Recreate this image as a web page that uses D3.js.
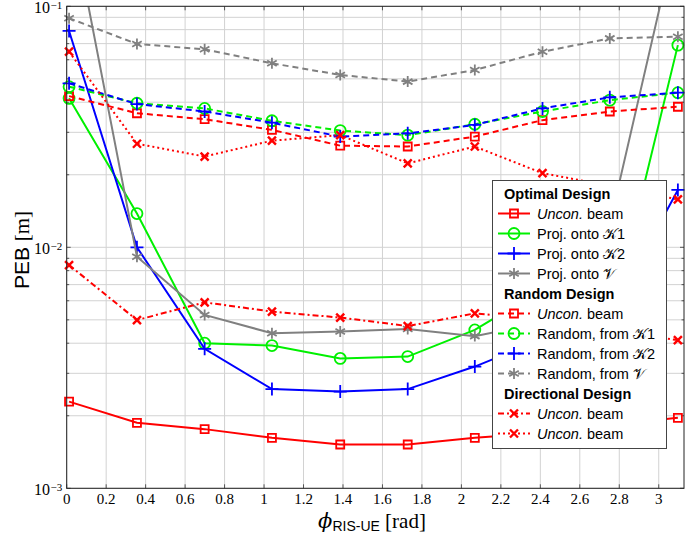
<!DOCTYPE html>
<html>
<head>
<meta charset="utf-8">
<script src="https://cdn.jsdelivr.net/npm/d3@7"></script>
<style>
  body { margin: 0; background: #fff; }
  svg { display: block; }
</style>
</head>
<body>
<script>
// angle samples (rad) and PEB values
const phi = [0.012, 0.356, 0.699, 1.04, 1.386, 1.728, 2.068, 2.411, 2.752, 3.097];

const optUncon = [0.00229, 0.00187, 0.00176, 0.00162, 0.00152, 0.00152, 0.00162, 0.0017, 0.00183, 0.00196];
const optK1 = [0.0415, 0.0138, 0.0040, 0.00391, 0.00346, 0.00352, 0.00454, 0.0067, 0.0047, 0.069];
const optK2 = [0.079, 0.0100, 0.00379, 0.00258, 0.00252, 0.00258, 0.0032, 0.00416, 0.0052, 0.0173];
const optV = [0.26, 0.00914, 0.00524, 0.0044, 0.00447, 0.00458, 0.00428, 0.00488, 0.0125, 0.21];
const rndUncon = [0.0424, 0.036, 0.034, 0.0307, 0.0264, 0.0262, 0.0288, 0.0337, 0.0366, 0.0383];
const rndK1 = [0.0464, 0.0396, 0.0377, 0.0335, 0.0305, 0.0292, 0.0324, 0.0366, 0.0408, 0.0438];
const rndK2 = [0.0479, 0.0393, 0.0366, 0.0329, 0.0288, 0.0297, 0.0322, 0.0377, 0.0419, 0.0438];
const rndV = [0.0892, 0.0698, 0.0663, 0.058, 0.0519, 0.0487, 0.0544, 0.0648, 0.0736, 0.0748];
const dirDashDot = [0.00844, 0.00499, 0.00591, 0.00541, 0.00511, 0.00471, 0.00532, 0.0050, 0.0045, 0.00412];
const dirDotted = [0.0648, 0.0269, 0.0238, 0.0277, 0.0292, 0.0223, 0.0262, 0.0203, 0.018, 0.0158];

const xTicks = [0, 0.2, 0.4, 0.6, 0.8, 1, 1.2, 1.4, 1.6, 1.8, 2, 2.2, 2.4, 2.6, 2.8, 3];
const yTicks = [1e-3, 1e-2, 1e-1];
const yTickExp = ["\u22123", "\u22122", "\u22121"];

// series: values, colour, dash, marker
const series = [
  {v: optUncon, c: "#ff0000", dash: null, m: "square"},
  {v: optK1, c: "#00f000", dash: null, m: "circle"},
  {v: optK2, c: "#0000ff", dash: null, m: "plus"},
  {v: optV, c: "#808080", dash: null, m: "star"},
  {v: rndUncon, c: "#ff0000", dash: "6,4", m: "square"},
  {v: rndK1, c: "#00f000", dash: "6,4", m: "circle"},
  {v: rndK2, c: "#0000ff", dash: "6,4", m: "plus"},
  {v: rndV, c: "#808080", dash: "6,4", m: "star"},
  {v: dirDashDot, c: "#ff0000", dash: "6,3,2,3", m: "x"},
  {v: dirDotted, c: "#ff0000", dash: "2,3", m: "x"}
];

const W = 685, H = 534;
const pLeft = 66.7, pRight = 684, pTop = 6.3, pBottom = 488.3;

const svg = d3.select("body").append("svg").attr("width", W).attr("height", H);

const x = d3.scaleLinear().domain([0, 3.128]).range([pLeft, pRight]);
const y = d3.scaleLog().domain([1e-3, 1e-1]).range([pBottom, pTop]);

// grid
const gridY = [];
[1e-3, 1e-2].forEach(d => { for (let k = 1; k < 10; k++) gridY.push(k * d); });
gridY.push(1e-1);

const grid = svg.append("g").attr("stroke", "#d2d2d2").attr("stroke-width", 1);
grid.selectAll("line.gx").data(xTicks).join("line")
  .attr("x1", d => x(d)).attr("x2", d => x(d))
  .attr("y1", pTop).attr("y2", pBottom);
grid.selectAll("line.gy").data(gridY).join("line")
  .attr("x1", pLeft).attr("x2", pRight)
  .attr("y1", d => y(d)).attr("y2", d => y(d));

// inner ticks
const ticks = svg.append("g").attr("stroke", "#333").attr("stroke-width", 0.8);
xTicks.forEach(t => {
  ticks.append("line").attr("x1", x(t)).attr("x2", x(t)).attr("y1", pBottom).attr("y2", pBottom - 4);
  ticks.append("line").attr("x1", x(t)).attr("x2", x(t)).attr("y1", pTop).attr("y2", pTop + 4);
});
gridY.forEach(t => {
  const len = yTicks.includes(t) ? 4 : 2.5;
  ticks.append("line").attr("x1", pLeft).attr("x2", pLeft + len).attr("y1", y(t)).attr("y2", y(t));
  ticks.append("line").attr("x1", pRight).attr("x2", pRight - len).attr("y1", y(t)).attr("y2", y(t));
});

// clip for lines
svg.append("clipPath").attr("id", "plotclip").append("rect")
  .attr("x", pLeft).attr("y", pTop).attr("width", pRight - pLeft).attr("height", pBottom - pTop);

function markerPath(m) {
  if (m === "square") return "M-4,-4H4V4H-4Z";
  if (m === "circle") return "M5.5,0A5.5,5.5 0 1,1 -5.5,0A5.5,5.5 0 1,1 5.5,0Z";
  if (m === "plus") return "M-6.5,0H6.5M0,-6.5V6.5";
  if (m === "x") return "M-4,-4L4,4M-4,4L4,-4";
  // asterisk
  const r = 5.5, a = Math.cos(Math.PI / 6) * r, b = r / 2;
  return `M0,${-r}V${r}M${-a},${-b}L${a},${b}M${-a},${b}L${a},${-b}`;
}

const line = d3.line().x((d, i) => x(phi[i])).y(d => y(d));

const plot = svg.append("g");
series.forEach(s => {
  plot.append("path")
    .attr("d", line(s.v))
    .attr("clip-path", "url(#plotclip)")
    .attr("fill", "none")
    .attr("stroke", s.c)
    .attr("stroke-width", 2)
    .attr("stroke-dasharray", s.dash);
  plot.append("g").selectAll("path")
    .data(s.v.map((v, i) => [phi[i], v]).filter(d => d[1] <= 0.1 && d[1] >= 1e-3))
    .join("path")
    .attr("transform", d => `translate(${x(d[0])},${y(d[1])})`)
    .attr("d", markerPath(s.m))
    .attr("fill", "none")
    .attr("stroke", s.c)
    .attr("stroke-width", s.m === "x" ? 2.4 : 1.8);
});

// frame
svg.append("rect").attr("x", pLeft).attr("y", pTop)
  .attr("width", pRight - pLeft).attr("height", pBottom - pTop)
  .attr("fill", "none").attr("stroke", "#222").attr("stroke-width", 1);

// tick labels
const serif = "'Liberation Serif', 'DejaVu Serif', serif";
svg.append("g").selectAll("text").data(xTicks).join("text")
  .attr("x", d => x(d)).attr("y", 504)
  .attr("text-anchor", "middle")
  .style("font", `15px ${serif}`)
  .text(d => d);

const yl = svg.append("g");
yTicks.forEach((t, i) => {
  yl.append("text")
    .attr("x", 50).attr("y", y(t) + 7)
    .attr("text-anchor", "end")
    .style("font", `16px ${serif}`)
    .text("10");
  yl.append("text")
    .attr("x", 50.5).attr("y", y(t) + 2.5)
    .style("font", `11px ${serif}`)
    .text(yTickExp[i]);
});

// axis labels
const ylab = svg.append("text")
  .attr("transform", "translate(29,250) rotate(-90)")
  .attr("text-anchor", "middle");
ylab.append("tspan").style("font", "21px 'Liberation Sans', sans-serif").text("PEB ");
ylab.append("tspan").style("font", `21px ${serif}`).text("[m]");

const xlab = svg.append("text").attr("x", 372).attr("y", 528).attr("text-anchor", "middle");
xlab.append("tspan").style("font", `italic 21px 'DejaVu Serif', serif`).text("\u03d5");
xlab.append("tspan").attr("dy", 3).style("font", "14px 'Liberation Sans', sans-serif").text("RIS-UE");
xlab.append("tspan").attr("dy", -3).style("font", `21px ${serif}`).text(" [rad]");

// legend
const lg = svg.append("g");
lg.append("rect").attr("x", 492.5).attr("y", 180.5).attr("width", 174).attr("height", 268)
  .attr("fill", "#fff").attr("stroke", "#444").attr("stroke-width", 1);

const sans = "'Liberation Sans', 'DejaVu Sans', sans-serif";
const rows = [
  {head: "Optimal Design"},
  {s: 0, t: [["i", "Uncon."], ["", " beam"]]},
  {s: 1, t: [["", "Proj. onto "], ["k", "\ud835\udca6"], ["", "1"]]},
  {s: 2, t: [["", "Proj. onto "], ["k", "\ud835\udca6"], ["", "2"]]},
  {s: 3, t: [["", "Proj. onto "], ["k", "\ud835\udcb1"]]},
  {head: "Random Design"},
  {s: 4, t: [["i", "Uncon."], ["", " beam"]]},
  {s: 5, t: [["", "Random, from "], ["k", "\ud835\udca6"], ["", "1"]]},
  {s: 6, t: [["", "Random, from "], ["k", "\ud835\udca6"], ["", "2"]]},
  {s: 7, t: [["", "Random, from "], ["k", "\ud835\udcb1"]]},
  {head: "Directional Design"},
  {s: 8, t: [["i", "Uncon."], ["", " beam"]]},
  {s: 9, t: [["i", "Uncon."], ["", " beam"]]}
];

rows.forEach((r, i) => {
  const cy = 193.5 + i * 20;
  if (r.head) {
    lg.append("text").attr("x", 504).attr("y", cy + 5)
      .style("font", `bold 14.5px ${sans}`).text(r.head);
    return;
  }
  const s = series[r.s];
  lg.append("line").attr("x1", 498).attr("x2", 530).attr("y1", cy).attr("y2", cy)
    .attr("stroke", s.c).attr("stroke-width", 2).attr("stroke-dasharray", s.dash);
  lg.append("path").attr("transform", `translate(514,${cy})`).attr("d", markerPath(s.m))
    .attr("fill", "none").attr("stroke", s.c).attr("stroke-width", s.m === "x" ? 2.4 : 1.8);
  const tx = lg.append("text").attr("x", 537).attr("y", cy + 5).style("font", `14.5px ${sans}`);
  r.t.forEach(p => {
    const sp = tx.append("tspan").text(p[1]);
    if (p[0] === "i") sp.style("font-style", "italic");
    if (p[0] === "k") sp.style("font-family", "'DejaVu Serif', serif");
  });
});
</script>
</body>
</html>
